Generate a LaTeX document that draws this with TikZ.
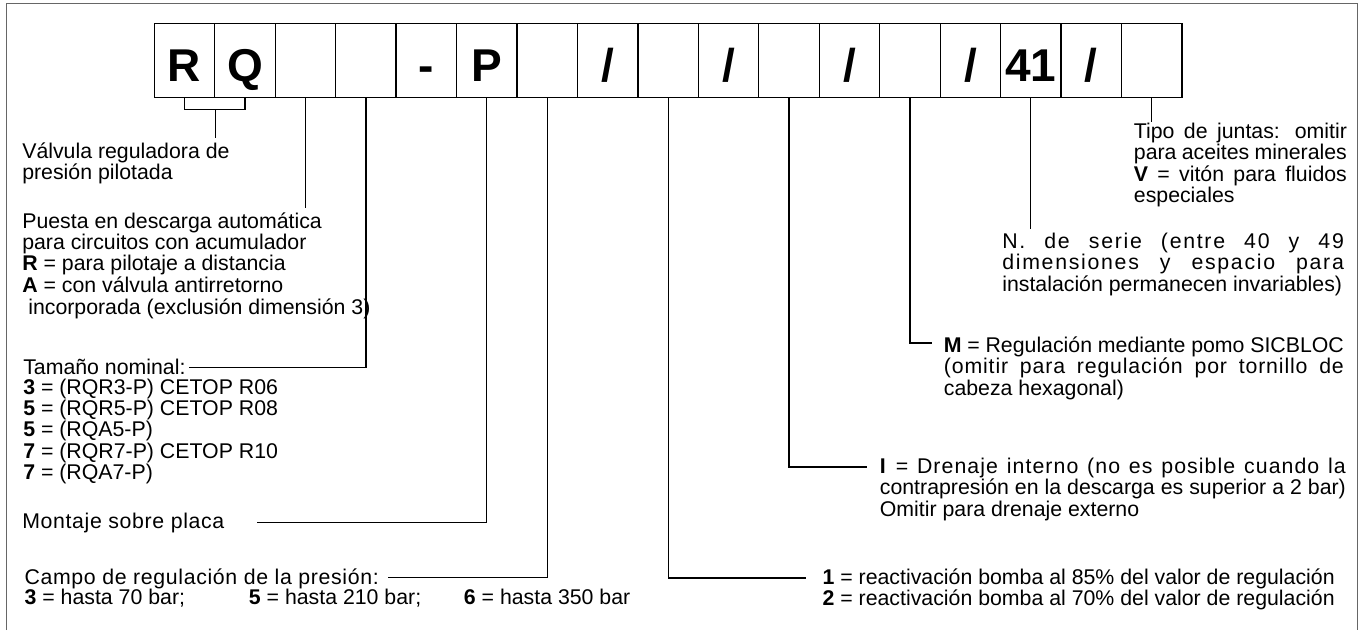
\documentclass[tikz,border=0pt]{standalone}
\usepackage{fontspec}
\setmainfont{Liberation Sans}
\newcommand{\just}[2]{\makebox[#1][s]{#2}}
\newcommand{\lineas}[1]{\begin{tabular}[t]{@{}l@{}}#1\end{tabular}}
\newcommand{\espaciado}[2]{{\addfontfeatures{LetterSpace=#1}#2}}

\begin{document}
\begin{tikzpicture}[x=1pt, y=-1pt, line width=1.2pt,
  casilla/.style={draw, rectangle, minimum width=60.45pt, minimum height=74.4pt, inner sep=0pt, text height=42.4pt, text depth=0pt, font=\fontsize{46pt}{46pt}\selectfont\bfseries},
  texto/.style={anchor=base west, inner sep=0pt, font=\fontsize{21.3pt}{20pt}\selectfont}]
  \useasboundingbox (0,0) rectangle (1365,630);
  \draw[line width=1.5pt, black!60] (6.7,630) -- (6.7,3.3) -- (1357.7,3.3) -- (1357.7,630);

  \node[casilla] (A) at (184.5,60.5) {R};
  \node[casilla] (B) at (245.0,60.5) {Q};
  \node[casilla] (C) at (305.4,60.5) {};
  \node[casilla] (D) at (365.9,60.5) {};
  \node[casilla] (E) at (426.3,60.5) {-};
  \node[casilla] (F) at (486.8,60.5) {P};
  \node[casilla] (G) at (547.2,60.5) {};
  \node[casilla] (H) at (607.7,60.5) {/};
  \node[casilla] (I) at (668.1,60.5) {};
  \node[casilla] (J) at (728.6,60.5) {/};
  \node[casilla] (K) at (789.0,60.5) {};
  \node[casilla] (L) at (849.5,60.5) {/};
  \node[casilla] (M) at (909.9,60.5) {};
  \node[casilla] (N) at (970.4,60.5) {/};
  \node[casilla] (O) at (1030.8,60.5) {41};
  \node[casilla] (P) at (1091.3,60.5) {/};
  \node[casilla] (Q) at (1151.7,60.5) {};

  % textos izquierda
  \node[texto] (T1) at (21.7,158) {\lineas{Válvula reguladora de\\presión pilotada}};
  \node[texto] (T2) at (21.7,228) {\lineas{Puesta en descarga automática\\para circuitos con acumulador\\\textbf{R} = para pilotaje a distancia\\\textbf{A} = con válvula antirretorno\\\hspace*{6pt}incorporada (exclusión dimensión 3)}};
  \node[texto] (T3) at (22.7,374) {Tamaño nominal:};
  \node[texto] (T4) at (22.7,394) {\lineas{\textbf{3} = (RQR3-P) CETOP R06\\\textbf{5} = (RQR5-P) CETOP R08\\\textbf{5} = (RQA5-P)\\\textbf{7} = (RQR7-P) CETOP R10\\\textbf{7} = (RQA7-P)}};
  \node[texto] (T5) at (21.7,528) {\espaciado{3}{Montaje sobre placa}};
  \node[texto] (T6) at (24,584) {\espaciado{3}{Campo de regulación de la presión:}};
  \node[texto] (T7) at (24,604) {\makebox[224.3pt][l]{\textbf{3} = hasta 70 bar;}\makebox[215pt][l]{\textbf{5} = hasta 210 bar;}\textbf{6} = hasta 350 bar};

  % textos derecha
  \node[texto] (T8) at (1133.3,138) {\lineas{\just{213pt}{Tipo de juntas: omitir}\\\just{213pt}{para aceites minerales}\\\just{213pt}{\textbf{V} = vitón para fluidos}\\especiales}};
  \node[texto] (T9) at (1001.7,248) {\lineas{\just{341.6pt}{\espaciado{8}{N. de serie (entre 40 y 49}}\\\just{341.6pt}{\espaciado{8}{dimensiones y espacio para}}\\instalación permanecen invariables)}};
  \node[texto] (T10) at (943.3,352) {\lineas{\just{400pt}{\textbf{M} = Regulación mediante pomo SICBLOC}\\\just{400pt}{\espaciado{4}{(omitir para regulación por tornillo de}}\\cabeza hexagonal)}};
  \node[texto] (T11) at (879.3,473) {\lineas{\just{466pt}{\espaciado{5}{\textbf{I} = Drenaje interno (no es posible cuando la}}\\\just{466pt}{contrapresión en la descarga es superior a 2 bar)}\\Omitir para drenaje externo}};
  \node[texto] (T12) at (822,584) {\lineas{\textbf{1} = reactivación bomba al 85\% del valor de regulación\\\textbf{2} = reactivación bomba al 70\% del valor de regulación}};

  % puntos de las líneas
  \coordinate (rq) at ([yshift=-11pt]A.south east);
  \coordinate (v1) at ([yshift=-28.3pt]rq);
  \coordinate (c1) at ([yshift=-109.3pt]C.south);
  \coordinate (d1) at ([xshift=3.3pt,yshift=6.7pt]T3.base east);
  \coordinate (f1) at ([xshift=31.7pt,yshift=5.3pt]T5.base east);
  \coordinate (g1) at ([xshift=8.7pt,yshift=6.7pt]T6.base east);
  \coordinate (i1) at ([xshift=-16pt,yshift=6pt]T12.base west);
  \coordinate (k1) at ([xshift=-12.6pt,yshift=6pt]T11.base west);
  \coordinate (m1) at ([xshift=-11.6pt,yshift=9pt]T10.base west);
  \coordinate (o1) at ([yshift=-130.3pt]O.south);
  \coordinate (q1) at ([yshift=-24pt]Q.south);

  \draw (A.south) |- (rq) -| (B.south);
  \draw (rq) -- (v1);
  \draw (C.south) -- (c1);
  \draw (D.south) |- (d1);
  \draw (F.south) |- (f1); % placa
  \draw (G.south) |- (g1); % presión
  \draw (I.south) |- (i1);
  \draw (K.south) |- (k1); % drenaje
  \draw (M.south) |- (m1);
  \draw (O.south) -- (o1); % serie
  \draw (Q.south) -- (q1); % juntas
\end{tikzpicture}
\end{document}
